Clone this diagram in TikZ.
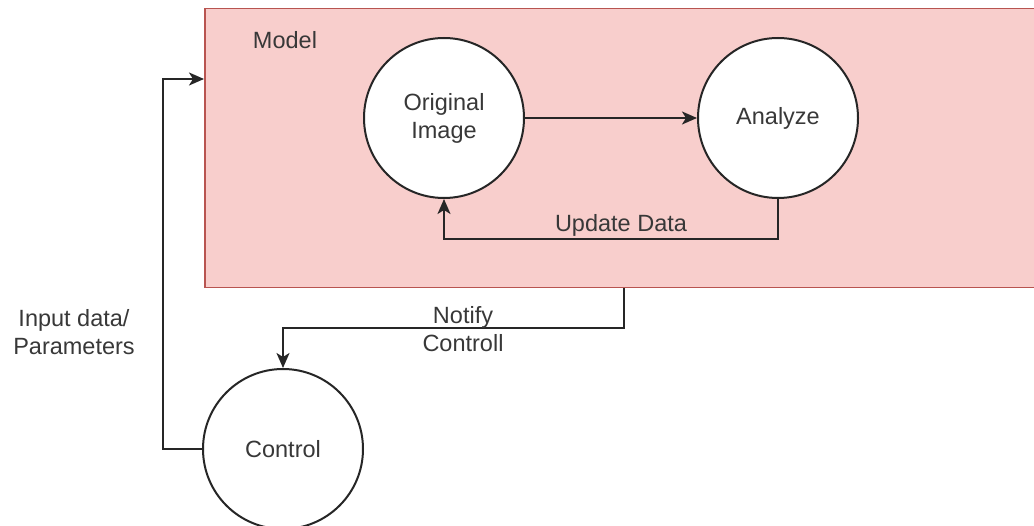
\documentclass[tikz,border=0pt]{standalone}
\usepackage{fontspec}
\setmainfont{Liberation Sans}
\usetikzlibrary{arrows.meta}
\definecolor{modelfill}{HTML}{F8CECC}
\definecolor{modelline}{HTML}{B85450}
\definecolor{ink}{HTML}{383838}
\definecolor{wire}{HTML}{262626}
\tikzset{
  every node/.style={font=\fontsize{23.5}{28}\selectfont, text=ink},
  modelbox/.style={draw=modelline, fill=modelfill, line width=1.5pt,
    rectangle, inner sep=0pt, anchor=north west},
  procnode/.style={circle, draw=wire, fill=white, line width=2pt,
    minimum size=160pt, inner sep=0pt, align=center},
  arr/.style={draw=wire, line width=2pt,
    -{Stealth[length=15pt, width=13pt, inset=4pt]}},
  lbl/.style={align=center, inner sep=0pt}
}
\begin{document}
\begin{tikzpicture}[x=1pt, y=-1pt]
  \useasboundingbox (0,0) rectangle (1034,526);
  \clip (0,0) rectangle (1034,526);

  % model container
  \node[modelbox, minimum width=860pt, minimum height=279pt] (model) at (204,8) {};
  \node[lbl] (modeltitle) at (285,40) {Model};

  % processes
  \node[procnode] (orig) at (444,118) {Original\\Image};
  \node[procnode] (ana) at (778,118) {Analyze};
  \node[procnode] (ctl) at (283,449) {Control};

  % helper coordinates for the routed wires
  \coordinate (low) at (0,239);
  \coordinate (tap) at (624,0);
  \coordinate (mid) at (0,328);
  \coordinate (leftx) at (163,0);
  \coordinate (feed) at (0,79);

  % wires
  \draw[arr] (orig.east) -- (ana.west);
  \draw[arr] (ana.south) -- (ana.south |- low) -| (orig.south);
  \node[lbl] (updlbl) at (621,225) {Update Data};

  \draw[arr] (model.south west -| tap) -- (tap |- mid) -| (ctl.north);
  \node[lbl] (notlbl) at (463,329) {Notify\\Controll};

  \draw[arr] (ctl.west) -- (ctl.west -| leftx) -- (leftx |- feed) -- (model.west |- feed);
  \node[lbl] (inlbl) at (74,332) {Input data/\\Parameters};
\end{tikzpicture}
\end{document}
